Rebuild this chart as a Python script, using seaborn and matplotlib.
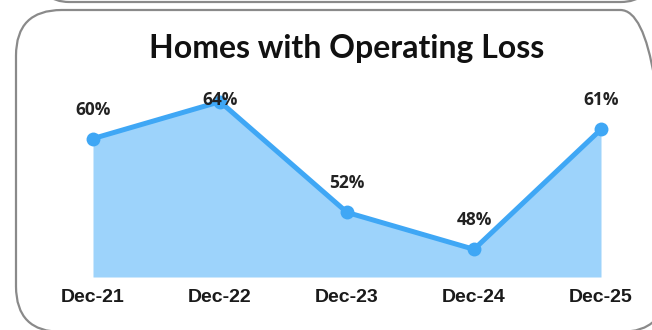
import matplotlib
matplotlib.use("Agg")
import matplotlib.pyplot as plt
from matplotlib.patches import FancyBboxPatch
import seaborn as sns
import pandas as pd

periods = ["Dec-21", "Dec-22", "Dec-23", "Dec-24", "Dec-25"]
loss_share = [60, 64, 52, 48, 61]

LINE = "#3FA7F5"
FILL = "#9DD3FB"

sns.set_theme(style="white")
plt.rcParams["font.family"] = ["Liberation Sans", "DejaVu Sans"]

df = pd.DataFrame({"pos": range(len(periods)), "share": loss_share})

fig = plt.figure(figsize=(6.52, 3.30), dpi=100)
fig.patch.set_facecolor("white")

# card outlines
W, H = 652.0, 330.0
card = FancyBboxPatch((16 / W, -2 / H), 650 / W, 322 / H,
                      boxstyle="round,pad=0,rounding_size=0.07",
                      transform=fig.transFigure, fill=False,
                      edgecolor="#8a8a8a", linewidth=1.6,
                      mutation_aspect=W / H)
fig.patches.append(card)
upper = FancyBboxPatch((40 / W, 328 / H), 610 / W, 60 / H,
                       boxstyle="round,pad=0,rounding_size=0.045",
                       transform=fig.transFigure, fill=False,
                       edgecolor="#8a8a8a", linewidth=1.6,
                       mutation_aspect=W / H)
fig.patches.append(upper)

ax = fig.add_axes([93 / W, 1 - 277 / H, 508 / W, (277 - 46.3) / H])
ax.set_xlim(0, len(periods) - 1)
ax.set_ylim(45, 70)
ax.set_facecolor("none")

ax.fill_between(df["pos"], df["share"], 45, color=FILL, linewidth=0, zorder=1)
sns.lineplot(data=df, x="pos", y="share", ax=ax, color=LINE, linewidth=3.6,
             marker="o", markersize=10, markeredgewidth=0,
             markerfacecolor=LINE, zorder=3, clip_on=False)

for x, v in zip(df["pos"], df["share"]):
    ax.text(x, min(v + 3.15, 64.2), f"{v}%", ha="center", va="center",
            fontsize=12.5, fontweight="bold", family=["Open Sans", "DejaVu Sans"],
            color="#222222", zorder=4)

ax.set_xticks(range(len(periods)))
ax.set_xticklabels(periods, fontsize=14, fontweight="bold", color="#1a1a1a")
ax.tick_params(axis="x", length=0, pad=9)
ax.set_yticks([])
ax.set_xlabel("")
ax.set_ylabel("")
for s in ax.spines.values():
    s.set_visible(False)

fig.text(347 / W, 1 - 58 / H, "Homes with Operating Loss", ha="center",
         va="baseline", fontsize=23, fontweight="bold",
         family=["Lato", "DejaVu Sans"], color="#111111")

fig.savefig("out.png", dpi=100, facecolor="white")
